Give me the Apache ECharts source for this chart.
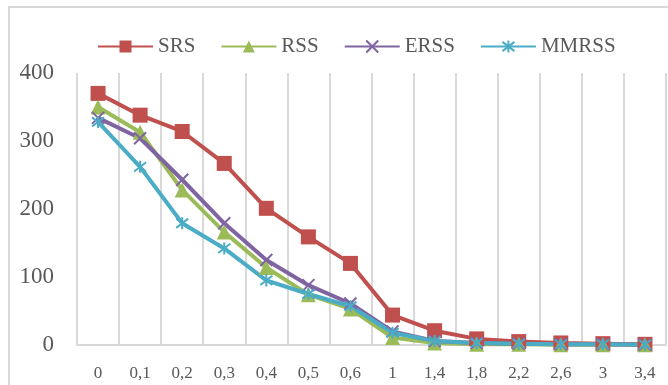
<!DOCTYPE html>
<html><head><meta charset="utf-8">
<script src="https://cdn.jsdelivr.net/npm/echarts@6/dist/echarts.min.js"></script>
<style>html,body{margin:0;padding:0;background:#fff}#c{width:668px;height:385px}</style>
</head><body><div id="c"></div>
<script>
const categories = ['0','0,1','0,2','0,3','0,4','0,5','0,6','1','1,4','1,8','2,2','2,6','3','3,4'];
const srs   = [370, 338, 314, 267, 201, 159, 120, 44, 21, 9, 5, 3, 2, 1];
const rss   = [350, 313, 228, 166, 114, 74, 53, 11, 3, 1, 1, 0.5, 0.5, 0.3];
const erss  = [334, 304, 243, 179, 125, 88, 61, 20, 6, 3, 2, 1, 1, 0.5];
const mmrss = [328, 262, 179, 142, 95, 75, 57, 18, 6, 3, 2, 1, 1, 0.5];
const yTicks = [0, 100, 200, 300, 400];

const FONT = 'Liberation Serif';
const xPath = 'path://M0,0L10,10M10,0L0,10';
const starPath = 'path://M0,0L10,10M10,0L0,10M5,-1.5L5,11.5';

function s(name, data, color, symbol, size, stroke) {
  return {
    name, type: 'line', data, symbol, symbolSize: size,
    lineStyle: {color, width: 4},
    itemStyle: stroke ? {color, borderColor: color, borderWidth: 2} : {color},
    emphasis: {disabled: true}
  };
}

const chart = echarts.init(document.getElementById('c'));
chart.setOption({
  animation: false,
  textStyle: {fontFamily: FONT},
  graphic: [{type: 'rect', shape: {x: 9, y: 7, width: 670, height: 400}, style: {fill: 'none', stroke: '#D9D9D9', lineWidth: 2}, silent: true}],
  legend: {
    top: 31, left: 92, itemWidth: 55, itemHeight: 15, itemGap: 25,
    textStyle: {fontFamily: FONT, fontSize: 21, color: '#595959'},
    data: ['SRS','RSS','ERSS','MMRSS']
  },
  grid: {left: 77, right: 2, top: 73, bottom: 40, containLabel: false},
  xAxis: {
    type: 'category', data: categories, boundaryGap: true,
    axisLine: {lineStyle: {color: '#D9D9D9', width: 2}},
    axisTick: {show: false},
    splitLine: {show: true, lineStyle: {color: '#D9D9D9', width: 2}},
    axisLabel: {fontFamily: FONT, fontSize: 17, color: '#595959', margin: 20, interval: 0}
  },
  yAxis: {
    type: 'value', min: yTicks[0], max: yTicks[yTicks.length-1], interval: 100,
    axisLine: {show: false}, axisTick: {show: false}, splitLine: {show: false},
    axisLabel: {fontFamily: FONT, fontSize: 23, color: '#595959', margin: 23}
  },
  series: [
    s('SRS', srs, '#C0504D', 'rect', 15, false),
    s('RSS', rss, '#9BBB59', 'triangle', 15, false),
    s('ERSS', erss, '#8064A2', xPath, 12, true),
    s('MMRSS', mmrss, '#4BACC6', starPath, 12, true)
  ]
});
</script></body></html>
